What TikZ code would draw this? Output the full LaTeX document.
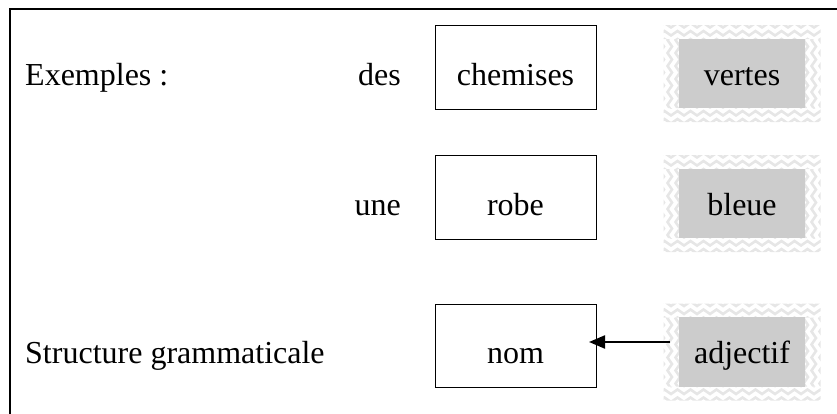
\documentclass[tikz,border=0pt]{standalone}
\usepackage{fontspec}
\setmainfont{Liberation Serif}
\usetikzlibrary{arrows.meta}
\definecolor{boxgrey}{RGB}{204,204,204}
\definecolor{zzgrey}{RGB}{230,230,230}
\tikzset{
  txt/.style={font=\fontsize{32}{36}\selectfont, inner sep=0pt},
  wordbox/.style={txt, draw=black, line width=1pt, minimum width=161pt,
    text height=60pt, text depth=24pt},
  greybox/.style={txt, fill=boxgrey, minimum width=126pt,
    text height=46pt, text depth=23pt},
  zzline/.style={draw=zzgrey, line width=2.6pt, line join=miter},
  frameline/.style={draw=black, line width=1.5pt},
  arrowline/.style={draw=black, line width=2.2pt, -{Triangle[length=16pt,width=13pt]}}
}
\newcommand\zzborder[2]{%
  \begin{scope}[shift={(#1,#2)}]
    \begin{scope}
      \clip (-78.5,-48.5) rectangle (78.5,-34.5) (-78.5,34.5) rectangle (78.5,48.5);
      \foreach \r in {-54,-46,...,54}
        \draw[zzline] (-84,\r) \foreach \i in {1,...,13}{ -- ++(6.5,-4.5) -- ++(6.5,4.5)};
    \end{scope}
    \begin{scope}
      \clip (-78.5,-34.5) rectangle (-63,34.5) (63,-34.5) rectangle (78.5,34.5);
      \foreach \c in {-86,-78,...,86}
        \draw[zzline] (\c,-40) \foreach \i in {1,...,7}{ -- ++(-4.5,6.5) -- ++(4.5,6.5)};
    \end{scope}
  \end{scope}}
\begin{document}
\begin{tikzpicture}[x=1pt,y=-1pt]
\useasboundingbox (0,0) rectangle (837,413);
\draw[frameline] (10,9) rectangle (850,425);

% zigzag borders
\zzborder{742}{73.5}
\zzborder{742}{203.5}
\zzborder{742}{352}

% row 1
\node[txt, anchor=base west] (ex) at (25,85) {Exemples :};
\node[txt, anchor=base east] (des) at (401,85) {des};
\node[wordbox] (chem) at (515.5,67) {chemises};
\node[greybox] (vert) at (742,73.5) {vertes};

% row 2
\node[txt, anchor=base east] (une) at (401,215) {une};
\node[wordbox] (robe) at (515.5,197) {robe};
\node[greybox] (bleu) at (742,203.5) {bleue};

% row 3
\node[txt, anchor=base west] (struct) at (25,363) {Structure grammaticale};
\node[wordbox, text height=59pt] (nom) at (515.5,345.5) {nom};
\node[greybox, text depth=24pt] (adj) at (742,352) {adjectif};

\coordinate (tail) at (670,342);
\coordinate (tip) at (589,342);
\draw[arrowline] (tail) -- (tip);
\end{tikzpicture}
\end{document}
